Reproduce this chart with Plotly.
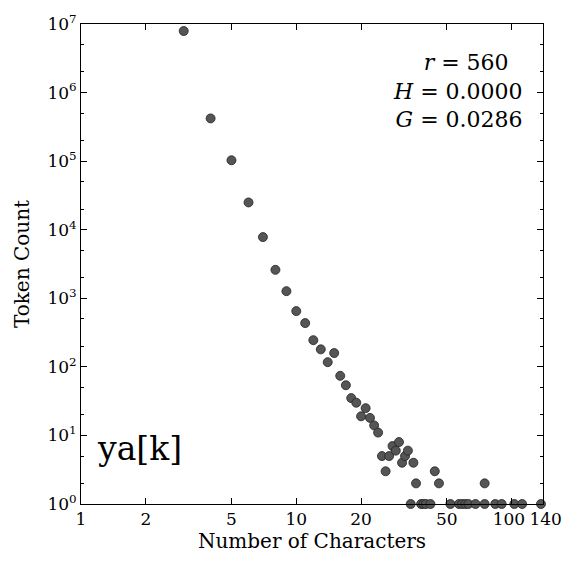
import plotly.graph_objects as go

# number of characters and token count per length
chars = [3, 4, 5, 6, 7, 8, 9, 10, 11, 12, 13, 14, 15, 16, 17, 18, 19, 20, 21, 22, 23, 24,
         25, 26, 27, 28, 29, 30, 31, 32, 33, 34, 35, 36, 38, 39, 40, 42, 44, 46,
         52, 57, 59, 61, 63, 68, 75, 75, 84, 90, 103, 112, 137, 140, 140]
counts = [7900000, 420000, 103000, 25000, 7800, 2600, 1270, 650, 435, 245, 180, 117, 159, 74, 54, 35, 30, 19, 25, 18, 14, 11,
          5, 3, 5, 7, 6, 8, 4, 5, 6, 1, 4, 2, 1, 1, 1, 1, 3, 2,
          1, 1, 1, 1, 1, 1, 1, 2, 1, 1, 1, 1, 1, 1, 2]

x_ticks = [1, 2, 5, 10, 20, 50, 100, 140]
x_labels = ["1", "2", "5", "10", "20", "50", "100\u00a0", "\u00a0140"]
y_ticks = [10 ** k for k in range(8)]
y_labels = ["10<sup>%d</sup>" % k for k in range(8)]

font = "DejaVu Serif"

fig = go.Figure(go.Scatter(
    x=chars, y=counts, mode="markers",
    marker=dict(size=9, color="#555555", line=dict(color="#222222", width=0.8)),
    cliponaxis=False,
))

axis_common = dict(
    type="log", showgrid=False, zeroline=False, showline=True, mirror="ticks",
    linecolor="black", linewidth=1, ticks="inside", ticklen=6, tickcolor="black",
    tickfont=dict(family=font, size=17, color="black"), automargin=False, tickangle=0,
)

fig.update_layout(
    width=583, height=564,
    margin=dict(l=73, r=48, t=16, b=68),
    paper_bgcolor="white", plot_bgcolor="white",
    showlegend=False,
    xaxis=dict(axis_common, range=[0, 2.1461], tickvals=x_ticks, ticktext=x_labels,
               title=dict(text="Number of Characters", font=dict(family=font, size=20, color="black"), standoff=4)),
    yaxis=dict(axis_common, range=[0, 7], tickvals=y_ticks, ticktext=y_labels,
               minor=dict(ticks="inside", ticklen=3, tickcolor="black", showgrid=False),
               title=dict(text="Token Count", font=dict(family=font, size=20, color="black"), standoff=12)),
    annotations=[
        dict(x=0.96, y=0.95, xref="paper", yref="paper", xanchor="right", yanchor="top", align="right",
             showarrow=False, font=dict(family=font, size=22, color="black"),
             text="<i>r</i> = 560  <br><i>H</i> = 0.0000<br><i>G</i> = 0.0286"),
        dict(x=0.03, y=0.07, xref="paper", yref="paper", xanchor="left", yanchor="bottom",
             showarrow=False, font=dict(family=font, size=33, color="black"), text="ya[k]"),
    ],
)

fig.write_html("out.html")
